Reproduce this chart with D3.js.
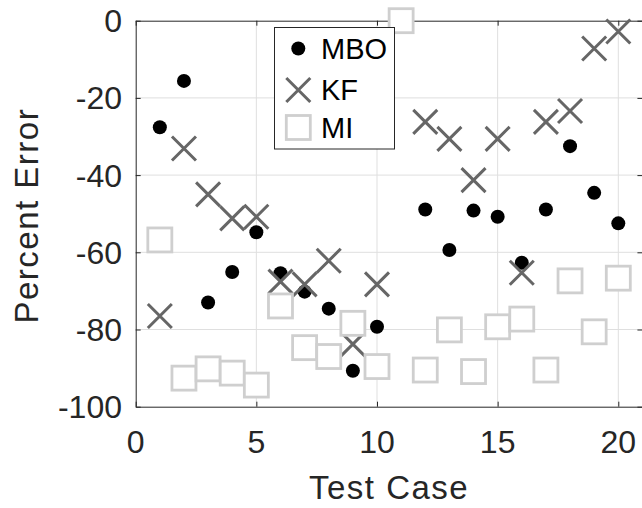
<!DOCTYPE html>
<html>
<head>
<meta charset="utf-8">
<script src="https://cdn.jsdelivr.net/npm/d3@7"></script>
<style>
  html, body { margin: 0; padding: 0; background: #fff; }
  svg { display: block; }
  text { font-family: "Liberation Sans", Arial, sans-serif; fill: #262626; }
</style>
</head>
<body>
<svg id="chart" width="642" height="508"></svg>
<script>
// ---- data ----
const testCases = [1,2,3,4,5,6,7,8,9,10,11,12,13,14,15,16,17,18,19,20];
const mbo = [-27.6,-15.6,-73.0,-65.1,-54.8,-65.4,-70.2,-74.6,-90.7,-79.3,null,-48.9,-59.4,-49.2,-50.8,-62.7,-48.9,-32.5,-44.6,-52.5];
const kf  = [-76.5,-33.1,-45.0,-51.2,-50.8,-67.6,-68.3,-62.2,-83.8,-68.3,null,-26.2,-30.6,-41.3,-30.6,-65.3,-26.2,-23.4,-7.2,-2.8];
const mi  = [-56.8,-92.6,-90.2,-91.3,-94.4,-73.9,-84.7,-87.0,-78.4,-89.6,0,-90.5,-80.1,-90.9,-79.3,-77.3,-90.5,-67.4,-80.6,-66.7];
const xTicks = [0,5,10,15,20];
const yTicks = [0,-20,-40,-60,-80,-100];
const seriesNames = ["MBO","KF","MI"];
const xLabel = "Test Case";
const yLabel = "Percent Error";

// ---- layout ----
const L = 135.7, T = 20.7, B = 406.7;
const x = d3.scaleLinear().domain([0,21]).range([L, L + 21*24.13]);
const y = d3.scaleLinear().domain([-100,0]).range([B, T]);
const R = x(21);

const svg = d3.select("#chart");
const axisColor = "#262626";
const gridColor = "#dfdfdf";

// grid
const grid = svg.append("g");
grid.selectAll("line.gx").data(xTicks.filter(t => t > 0)).enter().append("line")
  .attr("x1", d => x(d)).attr("x2", d => x(d)).attr("y1", T).attr("y2", B)
  .attr("stroke", gridColor).attr("stroke-width", 1);
grid.selectAll("line.gy").data(yTicks.filter(t => t > -100 && t < 0)).enter().append("line")
  .attr("x1", L).attr("x2", R).attr("y1", d => y(d)).attr("y2", d => y(d))
  .attr("stroke", gridColor).attr("stroke-width", 1);

// axes via d3 axis (inward ticks)
const tickLen = 5;
const xAxisB = d3.axisBottom(x).tickValues(xTicks).tickSizeInner(-tickLen).tickSizeOuter(0).tickFormat("");
const xAxisT = d3.axisTop(x).tickValues(xTicks).tickSizeInner(-tickLen).tickSizeOuter(0).tickFormat("");
const yAxisL = d3.axisLeft(y).tickValues(yTicks).tickSizeInner(-tickLen).tickSizeOuter(0).tickFormat("");
const yAxisR = d3.axisRight(y).tickValues(yTicks).tickSizeInner(-tickLen).tickSizeOuter(0).tickFormat("");
function styleAxis(g) {
  g.selectAll("path").attr("stroke", axisColor).attr("stroke-width", 1);
  g.selectAll("line").attr("stroke", axisColor).attr("stroke-width", 1);
}
svg.append("g").attr("transform", `translate(0,${B})`).call(xAxisB).call(styleAxis);
svg.append("g").attr("transform", `translate(0,${T})`).call(xAxisT).call(styleAxis);
svg.append("g").attr("transform", `translate(${L},0)`).call(yAxisL).call(styleAxis);
svg.append("g").attr("transform", `translate(${R},0)`).call(yAxisR).call(styleAxis);

// tick labels
svg.append("g").selectAll("text").data(xTicks).enter().append("text")
  .attr("x", d => x(d)).attr("y", 453.3).attr("text-anchor", "middle")
  .style("font-size", "32px").text(d => d);
svg.append("g").selectAll("text").data(yTicks).enter().append("text")
  .attr("x", 122).attr("y", d => y(d)).attr("dy", "0.36em").attr("text-anchor", "end")
  .style("font-size", "32px").text(d => d);

// axis labels
svg.append("text").attr("x", (L + R)/2).attr("y", 499.3).attr("text-anchor", "middle")
  .style("font-size", "33px").style("letter-spacing", "1.5px").text(xLabel);
svg.append("text").attr("transform", `translate(38.3,${(T+B)/2 + 2}) rotate(-90)`)
  .attr("text-anchor", "middle")
  .style("font-size", "33px").style("letter-spacing", "1.5px").text(yLabel);

// markers
const xr = 12, sq = 24;
function drawDot(g, cx, cy) {
  g.append("circle").attr("cx", cx).attr("cy", cy).attr("r", 7).attr("fill", "#000");
}
function drawX(g, cx, cy) {
  g.append("path")
    .attr("d", `M${cx-xr},${cy-xr}L${cx+xr},${cy+xr}M${cx-xr},${cy+xr}L${cx+xr},${cy-xr}`)
    .attr("stroke", "#666").attr("stroke-width", 3).attr("fill", "none");
}
function drawSq(g, cx, cy) {
  g.append("rect").attr("x", cx - sq/2).attr("y", cy - sq/2).attr("width", sq).attr("height", sq)
    .attr("fill", "#fff").attr("stroke", "#cfcfcf").attr("stroke-width", 2.8);
}
const marks = svg.append("g");
testCases.forEach((c, i) => { if (mbo[i] !== null) drawDot(marks, x(c), y(mbo[i])); });
testCases.forEach((c, i) => { if (kf[i] !== null) drawX(marks, x(c), y(kf[i])); });
testCases.forEach((c, i) => { if (mi[i] !== null) drawSq(marks, x(c), y(mi[i])); });

// legend
const lg = svg.append("g");
lg.append("rect").attr("x", 274.5).attr("y", 27.5).attr("width", 120).attr("height", 121.5)
  .attr("fill", "#fff").attr("stroke", axisColor).attr("stroke-width", 1);
const legY = [48.5, 90, 127.5];
const drawers = [drawDot, drawX, drawSq];
seriesNames.forEach((n, i) => {
  drawers[i](lg, 298.3, legY[i]);
  lg.append("text").attr("x", 321).attr("y", legY[i]).attr("dy", "0.36em")
    .style("font-size", "29px").style("fill", "#000").text(n);
});
</script>
</body>
</html>
